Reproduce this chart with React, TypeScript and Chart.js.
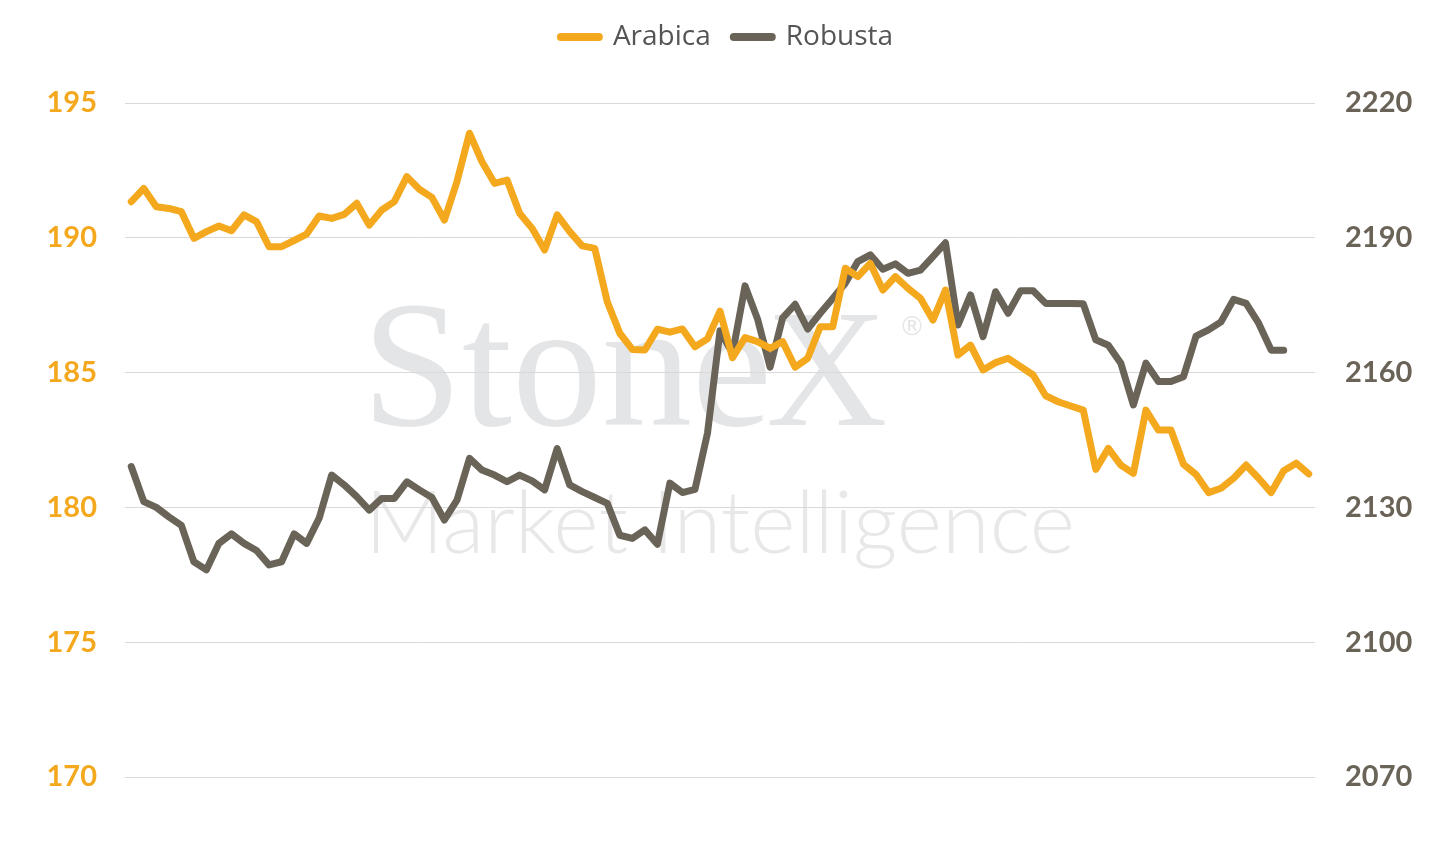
import React, { useEffect, useRef } from "react";
import { Chart, registerables } from "chart.js";

Chart.register(...registerables);

const seriesNames = ["Arabica", "Robusta"];
const seriesColors = ["#F4A81D", "#6A6358"];

const arabica = [
  191.34, 191.83, 191.15, 191.09, 190.97, 189.98, 190.23, 190.44, 190.26, 190.85,
  190.6, 189.67, 189.67, 189.9, 190.14, 190.81, 190.72, 190.87, 191.28, 190.47,
  191.03, 191.34, 192.27, 191.8, 191.5, 190.66, 192.08, 193.88, 192.82, 192.02,
  192.14, 190.91, 190.35, 189.55, 190.85, 190.23, 189.7, 189.61, 187.63, 186.46,
  185.86, 185.84, 186.61, 186.5, 186.62, 185.96, 186.25, 187.28, 185.55, 186.3,
  186.15, 185.9, 186.15, 185.2, 185.53, 186.7, 186.7, 188.87, 188.56, 189.05,
  188.06, 188.56, 188.13, 187.76, 186.95, 188.06, 185.65, 186.02, 185.1, 185.37,
  185.53, 185.22, 184.91, 184.14, 183.92, 183.76, 183.61, 181.41, 182.19, 181.57,
  181.26, 183.61, 182.87, 182.87, 181.6, 181.22, 180.55, 180.71, 181.08, 181.57,
  181.08, 180.55, 181.36, 181.64, 181.24,
];

const robusta = [
  2139.1, 2131.3, 2130.0, 2127.9, 2126.0, 2117.9, 2116.1, 2122.0, 2124.1, 2122.0,
  2120.4, 2117.2, 2117.9, 2124.1, 2122.0, 2127.6, 2137.2, 2135.0, 2132.4, 2129.4,
  2132.0, 2132.0, 2135.7, 2133.9, 2132.2, 2127.2, 2131.6, 2140.9, 2138.3, 2137.2,
  2135.7, 2137.2, 2135.9, 2133.9, 2143.1, 2135.0, 2133.5, 2132.2, 2130.9, 2123.8,
  2123.1, 2125.0, 2121.8, 2135.4, 2133.3, 2134.0, 2146.5, 2169.3, 2164.3, 2179.3,
  2171.9, 2161.2, 2172.2, 2175.2, 2169.7, 2173.2, 2176.5, 2179.9, 2184.7, 2186.2,
  2183.0, 2184.2, 2182.1, 2182.8, 2185.8, 2188.9, 2170.6, 2177.3, 2168.0, 2178.0,
  2173.2, 2178.2, 2178.2, 2175.4, 2175.4, 2175.4, 2175.3, 2167.3, 2166.1, 2162.1,
  2152.8, 2162.1, 2158.0, 2158.0, 2159.1, 2168.1, 2169.5, 2171.3, 2176.3, 2175.4,
  2171.0, 2165.0, 2165.0,
];

const categories = arabica.map((_, i) => `W${i + 1}`);

const leftTicks = [170, 175, 180, 185, 190, 195];
const rightTicks = [2070, 2100, 2130, 2160, 2190, 2220];

const watermarkPlugin = {
  id: "watermark",
  beforeDraw(chart: any) {
    const ctx = chart.ctx;
    ctx.save();
    ctx.fillStyle = "#e4e5e7";
    ctx.textBaseline = "alphabetic";
    ctx.textAlign = "left";
    ctx.font = '180px "Liberation Serif", serif';
    ctx.fillText("Stone", 362, 425);
    const w = ctx.measureText("Stone").width;
    ctx.font = '168px "Liberation Serif", serif';
    ctx.fillText("X", 362 + w - 6, 425);
    ctx.font = '26px "DejaVu Sans", sans-serif';
    ctx.fillText("®", 899, 335);
    ctx.fillStyle = "#e8e8e9";
    ctx.font = '300 92px Lato, sans-serif';
    const mw = ctx.measureText("Market Intelligence").width;
    const size = (92 * 710) / mw;
    ctx.font = `300 ${size}px Lato, sans-serif`;
    ctx.fillText("Market Intelligence", 365, 553);
    ctx.restore();
  },
};

export default function App() {
  const ref = useRef<HTMLCanvasElement | null>(null);

  useEffect(() => {
    if (!ref.current) return;
    const chart = new Chart(ref.current, {
      type: "line",
      data: {
        labels: categories,
        datasets: [
          {
            label: seriesNames[0],
            data: arabica,
            borderColor: seriesColors[0],
            backgroundColor: seriesColors[0],
            borderWidth: 7,
            borderCapStyle: "round",
            borderJoinStyle: "round",
            pointRadius: 0,
            tension: 0,
            yAxisID: "y",
          },
          {
            label: seriesNames[1],
            data: robusta,
            borderColor: seriesColors[1],
            backgroundColor: seriesColors[1],
            borderWidth: 7,
            borderCapStyle: "round",
            borderJoinStyle: "round",
            pointRadius: 0,
            tension: 0,
            yAxisID: "y1",
          },
        ],
      },
      options: {
        responsive: false,
        animation: false,
        layout: { padding: { top: 0, bottom: 65, left: 0, right: 0 } },
        plugins: {
          tooltip: { enabled: false },
          legend: {
            position: "top",
            align: "center",
            labels: {
              usePointStyle: true,
              pointStyleWidth: 38,
              padding: 23,
              color: "#555555",
              font: { family: '"Open Sans", sans-serif', size: 28 },
              generateLabels: (ch: any) =>
                ch.data.datasets.map((ds: any, i: number) => ({
                  text: ds.label,
                  fillStyle: ds.borderColor,
                  strokeStyle: ds.borderColor,
                  lineWidth: 8,
                  lineCap: "round",
                  pointStyle: "line",
                  hidden: false,
                  datasetIndex: i,
                  fontColor: "#555555",
                })),
            },
          },
        },
        scales: {
          x: {
            type: "category",
            position: "top",
            offset: true,
            grid: { display: false, drawTicks: false },
            border: { display: false },
            ticks: { display: false },
            afterFit: (s: any) => {
              s.height = 42;
            },
          },
          y: {
            position: "left",
            min: 170,
            max: 195,
            afterBuildTicks: (s: any) => {
              s.ticks = leftTicks.map((v) => ({ value: v }));
            },
            grid: { color: "#d9d9d9", lineWidth: 1, drawTicks: false },
            border: { display: false },
            ticks: {
              color: seriesColors[0],
              padding: 28,
              font: { family: "Lato, sans-serif", size: 29, weight: "bold" },
              callback: (v: any) => String(v),
            },
            afterFit: (s: any) => {
              s.width = 125;
            },
          },
          y1: {
            position: "right",
            min: 2070,
            max: 2220,
            afterBuildTicks: (s: any) => {
              s.ticks = rightTicks.map((v) => ({ value: v }));
            },
            grid: { display: false, drawTicks: false },
            border: { display: false },
            ticks: {
              color: seriesColors[1],
              padding: 30,
              font: { family: "Lato, sans-serif", size: 29, weight: "bold" },
              callback: (v: any) => String(v),
            },
            afterFit: (s: any) => {
              s.width = 139;
            },
          },
        },
      },
      plugins: [watermarkPlugin],
    });
    return () => chart.destroy();
  }, []);

  return (
    <div style={{ position: "fixed", left: 0, top: 0, width: 1454, height: 842, background: "#fff" }}>
      <canvas ref={ref} width={1454} height={842} />
    </div>
  );
}
